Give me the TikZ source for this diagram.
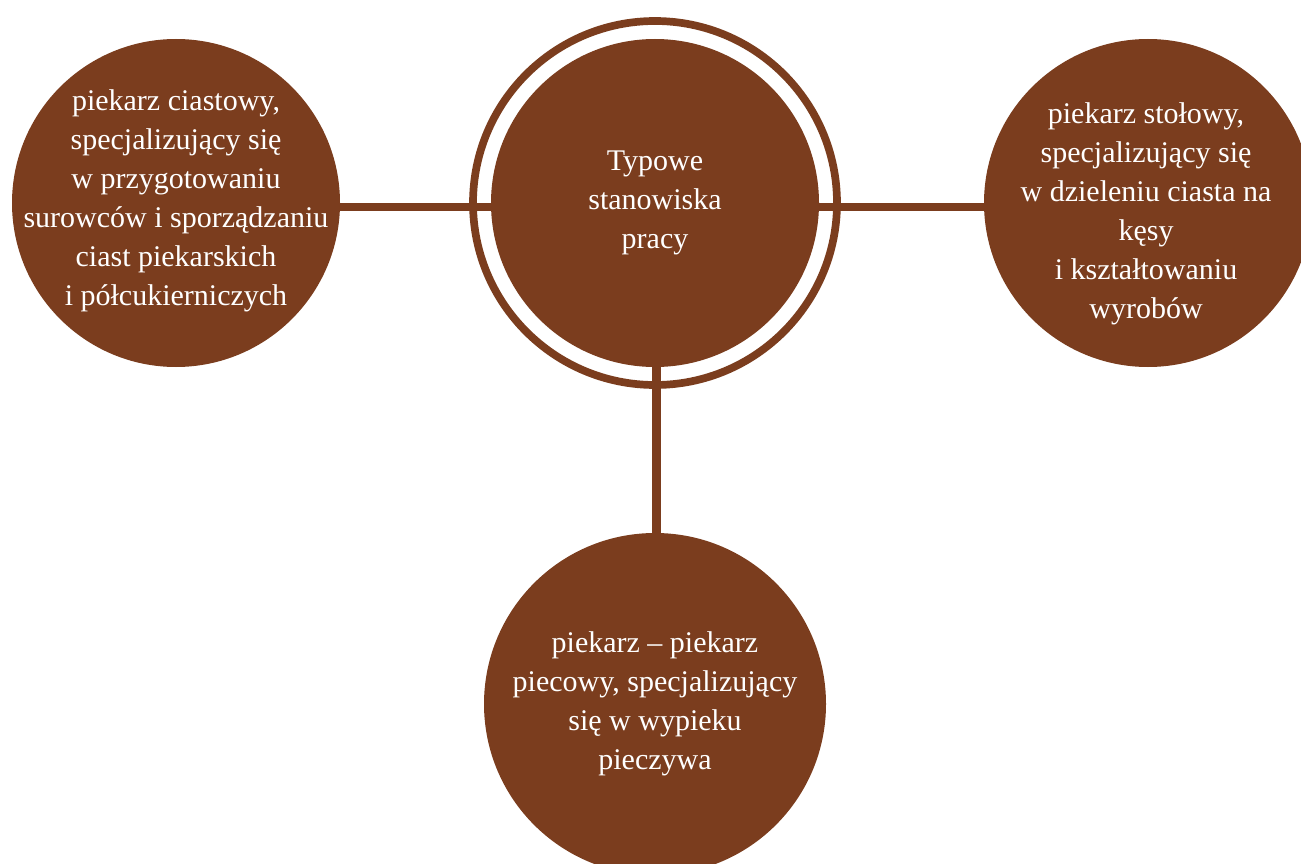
\documentclass[tikz,border=0pt]{standalone}
\usepackage{fontspec}
\setmainfont{Liberation Serif}
\usetikzlibrary{backgrounds}
\definecolor{bakebrown}{RGB}{123,61,30}
\tikzset{
  bubble/.style={circle, fill=bakebrown, inner sep=0pt, minimum size=#1},
  txt/.style={text=white, align=center, font=\fontsize{30}{39}\selectfont, inner sep=0pt},
  ringstyle/.style={circle, draw=bakebrown, line width=7.7pt, inner sep=0pt, minimum size=364pt},
  link/.style={draw=bakebrown, line width=8.5pt}
}
\begin{document}
\begin{tikzpicture}[x=1pt,y=-1pt]
\useasboundingbox (0,0) rectangle (1301,864);
% center
\node[ringstyle] (ring) at (655,203) {};
\node[bubble=328pt] (C) at (655,203) {};
\node[txt] (Ct) at (655,203) {Typowe\\stanowiska\\pracy};
% left
\node[bubble=328pt] (L) at (176,203) {};
\node[txt] (Lt) at (176,201) {piekarz ciastowy,\\specjalizujący się\\w przygotowaniu\\surowców i sporządzaniu\\ciast piekarskich\\i półcukierniczych};
% right
\node[bubble=328pt] (R) at (1148,203) {};
\node[txt] (Rt) at (1146,214) {piekarz stołowy,\\specjalizujący się\\w dzieleniu ciasta na\\kęsy\\i kształtowaniu\\wyrobów};
% bottom
\node[bubble=342pt] (B) at (655,704) {};
\node[txt] (Bt) at (655,704) {piekarz – piekarz\\piecowy, specjalizujący\\się w wypieku\\pieczywa};
% connectors
\begin{scope}[on background layer]
\draw[link] ([yshift=-4pt]L.center) -- ([yshift=-4pt]C.center);
\draw[link] ([yshift=-4pt]C.center) -- ([yshift=-4pt]R.center);
\draw[link] ([xshift=1.5pt]C.center) -- ([xshift=1.5pt]B.center);
\end{scope}
\end{tikzpicture}
\end{document}
